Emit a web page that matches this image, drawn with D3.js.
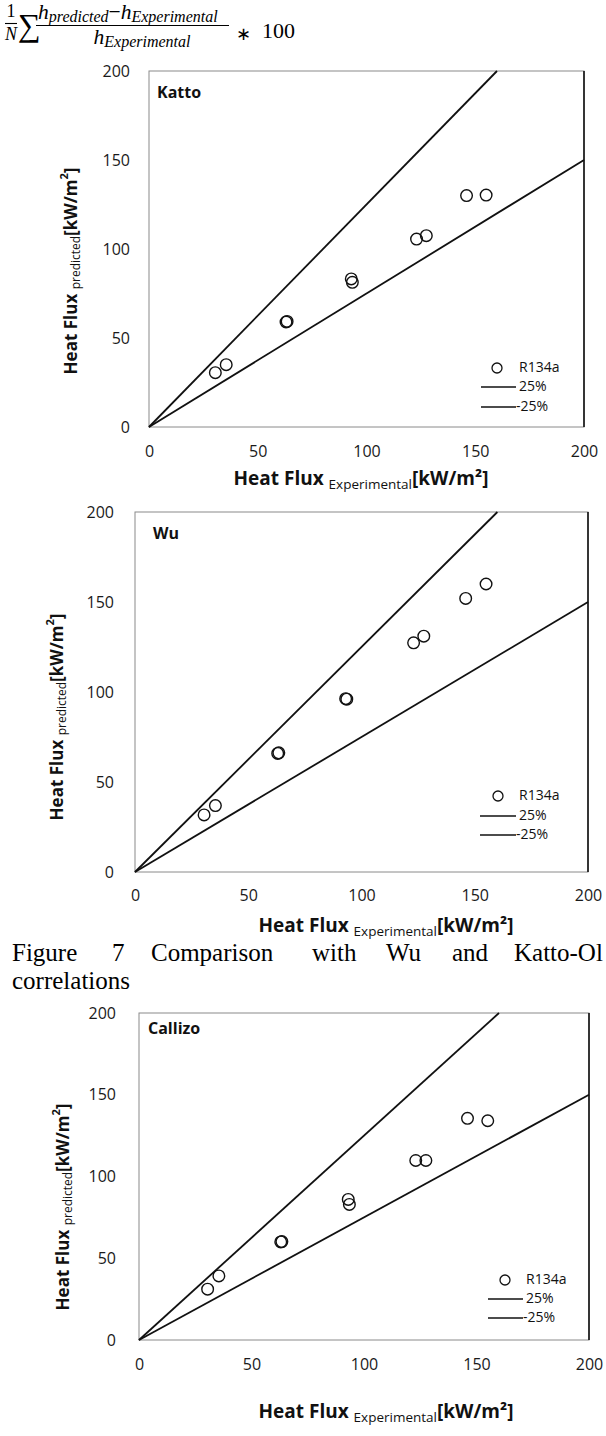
<!DOCTYPE html>
<html>
<head>
<meta charset="utf-8">
<script src="https://cdn.jsdelivr.net/npm/d3@7"></script>
<style>
  html, body { margin: 0; padding: 0; background: #fff; }
  svg { display: block; }
</style>
</head>
<body>
<svg id="page" width="606" height="1436"></svg>
<script>
// Experimental heat flux (kW/m²) of the R134a test points
const experimental = [30.5, 35.5, 63, 63.5, 93, 93.5, 123, 127.5, 146, 155];
// Predicted heat flux for each correlation (kW/m²)
const kattoPredicted = [30.5, 35, 59, 59.3, 83.2, 81.3, 105.6, 107.5, 130, 130.3];
const wuPredicted = [31.7, 36.9, 65.9, 66.2, 96.3, 96.0, 127.3, 131, 152, 160];
const callizoPredicted = [31.1, 39.2, 60, 60.2, 86, 82.9, 109.8, 109.8, 135.6, 134.1];
// Error band lines and axis ticks
const bandLabels = ["25%", "-25%"];
const bandFactors = [1.25, 0.75];
const tickValues = [0, 50, 100, 150, 200];
const seriesName = "R134a";

const svg = d3.select("#page");
const sans = "'Open Sans', 'Noto Sans', sans-serif";
const serif = "'Liberation Serif', 'Times New Roman', serif";

// ---- mean relative deviation formula ----
const f = svg.append("g").attr("font-family", serif).attr("fill", "#000");
f.append("text").attr("x", 11).attr("y", 17).attr("font-size", 18).attr("text-anchor", "middle").text("1");
f.append("line").attr("x1", 5).attr("x2", 17).attr("y1", 23.5).attr("y2", 23.5).attr("stroke", "#000").attr("stroke-width", 1.1);
f.append("text").attr("x", 11).attr("y", 40).attr("font-size", 18).attr("font-style", "italic").attr("text-anchor", "middle").text("N");
f.append("text").attr("x", 18).attr("y", 36).attr("font-size", 32).text("∑");
const num = f.append("text").attr("x", 38).attr("y", 19).attr("font-size", 21.5).attr("font-style", "italic");
num.append("tspan").text("h");
num.append("tspan").attr("font-size", 16).attr("dy", 3).text("predicted");
num.append("tspan").attr("dy", -3).attr("font-style", "normal").text("−");
num.append("tspan").text("h");
num.append("tspan").attr("font-size", 16).attr("dy", 3).text("Experimental");
f.append("line").attr("x1", 36).attr("x2", 229).attr("y1", 25.5).attr("y2", 25.5).attr("stroke", "#000").attr("stroke-width", 1.1);
const den = f.append("text").attr("x", 142).attr("y", 44).attr("font-size", 21.5).attr("font-style", "italic").attr("text-anchor", "middle");
den.append("tspan").text("h");
den.append("tspan").attr("font-size", 16).attr("dy", 3).text("Experimental");
f.append("text").attr("x", 236).attr("y", 40).attr("font-size", 18).text("∗");
f.append("text").attr("x", 262).attr("y", 38).attr("font-size", 22).text("100");

// ---- one parity panel ----
function drawPanel(cfg) {
  const g = svg.append("g");
  const x = d3.scaleLinear().domain([0, 200]).range([cfg.left, cfg.right]);
  const y = d3.scaleLinear().domain([0, 200]).range([cfg.bottom, cfg.top]);

  // plot-area frame: light on three sides, darker on the right
  g.append("rect")
    .attr("x", cfg.left).attr("y", cfg.top)
    .attr("width", cfg.right - cfg.left).attr("height", cfg.bottom - cfg.top)
    .attr("fill", "none").attr("stroke", "#8a8a8a").attr("stroke-width", 1);
  g.append("line")
    .attr("x1", cfg.right).attr("x2", cfg.right).attr("y1", cfg.top).attr("y2", cfg.bottom)
    .attr("stroke", "#1c1c1c").attr("stroke-width", 1.7);

  // axes (labels only, no tick marks)
  const xAxis = g.append("g").attr("transform", `translate(0,${cfg.bottom + cfg.xTickGap})`)
    .call(d3.axisBottom(x).tickValues(tickValues).tickSize(0).tickPadding(0));
  const yAxis = g.append("g").attr("transform", `translate(${cfg.left - cfg.yTickGap},0)`)
    .call(d3.axisLeft(y).tickValues(tickValues).tickSize(0).tickPadding(0));
  [xAxis, yAxis].forEach(a => {
    a.select(".domain").remove();
    a.selectAll("text").attr("font-family", sans).attr("font-size", 16).attr("fill", "#1a1a1a");
  });
  xAxis.selectAll("text").attr("dy", "0.36em");

  // ±25 % band lines
  const line = d3.line().x(d => x(d[0])).y(d => y(d[1]));
  bandFactors.forEach(k => {
    const xEnd = Math.min(200, 200 / k);
    g.append("path")
      .attr("d", line([[0, 0], [xEnd, xEnd * k]]))
      .attr("fill", "none").attr("stroke", "#111").attr("stroke-width", 1.8);
  });

  // data points
  g.selectAll("circle.pt").data(experimental.map((e, i) => [e, cfg.predicted[i]]))
    .join("circle").attr("class", "pt")
    .attr("cx", d => x(d[0])).attr("cy", d => y(d[1])).attr("r", 5.8)
    .attr("fill", "none").attr("stroke", "#111").attr("stroke-width", 1.4);

  // correlation name
  g.append("text").attr("x", cfg.nameX).attr("y", cfg.nameY)
    .attr("font-family", sans).attr("font-weight", "bold").attr("font-size", 16)
    .attr("dominant-baseline", "middle").attr("fill", "#111").text(cfg.name);

  // legend
  const L = cfg.legend;
  g.append("circle").attr("cx", L.cx).attr("cy", L.cy).attr("r", 5)
    .attr("fill", "none").attr("stroke", "#111").attr("stroke-width", 1.3);
  g.append("text").attr("x", L.tx).attr("y", L.cy).attr("dominant-baseline", "middle")
    .attr("font-family", sans).attr("font-size", 14).attr("fill", "#111").text(seriesName);
  bandLabels.forEach((lab, i) => {
    const ly = L.ly[i];
    g.append("line").attr("x1", L.lx1).attr("x2", L.lx2).attr("y1", ly).attr("y2", ly)
      .attr("stroke", "#111").attr("stroke-width", 1.6);
    g.append("text").attr("x", L.tx - (lab.startsWith("-") ? 3 : 0)).attr("y", ly).attr("dominant-baseline", "middle")
      .attr("font-family", sans).attr("font-size", 14).attr("fill", "#111").text(lab);
  });

  // y-axis title (rotated)
  const yt = g.append("text")
    .attr("transform", `translate(${cfg.yTitleX},${cfg.yTitleY}) rotate(-90)`)
    .attr("text-anchor", "middle").attr("dominant-baseline", "middle")
    .attr("font-family", sans).attr("font-weight", "bold").attr("font-size", 17).attr("fill", "#111");
  yt.append("tspan").text("Heat Flux ");
  yt.append("tspan").attr("font-size", 12).attr("font-weight", "normal").attr("dy", 5).text("predicted");
  yt.append("tspan").attr("dy", -5).text("[kW/m");
  yt.append("tspan").attr("font-size", 11).attr("dy", -7).text("2");
  yt.append("tspan").attr("dy", 7).text("]");

  // x-axis title
  const xt = g.append("text")
    .attr("x", cfg.xTitleX).attr("y", cfg.xTitleY)
    .attr("text-anchor", "middle")
    .attr("font-family", sans).attr("font-weight", "bold").attr("font-size", 19).attr("fill", "#111");
  xt.append("tspan").text("Heat Flux ");
  xt.append("tspan").attr("font-size", 13.5).attr("font-weight", "normal").attr("dy", 4).text("Experimental");
  xt.append("tspan").attr("dy", -4).text("[kW/m²]");
}

drawPanel({
  name: "Katto", predicted: kattoPredicted,
  left: 149, right: 584, top: 71, bottom: 427,
  xTickGap: 24, yTickGap: 19,
  nameX: 157, nameY: 94,
  legend: { cx: 497, cy: 368, tx: 519, lx1: 481, lx2: 516, ly: [387, 407] },
  yTitleX: 72, yTitleY: 271, xTitleX: 361, xTitleY: 485
});

drawPanel({
  name: "Wu", predicted: wuPredicted,
  left: 135, right: 588, top: 512, bottom: 872,
  xTickGap: 23, yTickGap: 21,
  nameX: 153, nameY: 535,
  legend: { cx: 498, cy: 796, tx: 519, lx1: 480, lx2: 516, ly: [816, 835] },
  yTitleX: 58, yTitleY: 717, xTitleX: 386, xTitleY: 932
});

drawPanel({
  name: "Callizo", predicted: callizoPredicted,
  left: 139, right: 589, top: 1013, bottom: 1340,
  xTickGap: 24, yTickGap: 23,
  nameX: 148, nameY: 1030,
  legend: { cx: 505, cy: 1280, tx: 526, lx1: 488, lx2: 523, ly: [1299, 1318] },
  yTitleX: 64, yTitleY: 1207, xTitleX: 386, xTitleY: 1418
});

// ---- figure caption between panels ----
const capWords = ["Figure", "7", "Comparison", "with", "Wu", "and", "Katto-Ol"];
const capX = [12, 112, 151, 312, 386, 452, 514];
const cap = svg.append("g").attr("font-family", serif).attr("font-size", 25).attr("fill", "#000");
capWords.forEach((w, i) => cap.append("text").attr("x", capX[i]).attr("y", 961).text(w));
cap.append("text").attr("x", 12).attr("y", 989).text("correlations");
</script>
</body>
</html>
